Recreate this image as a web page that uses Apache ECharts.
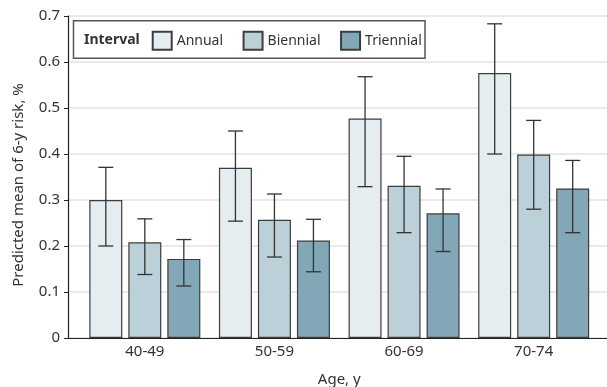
<!DOCTYPE html>
<html>
<head>
<meta charset="utf-8">
<script src="https://cdn.jsdelivr.net/npm/echarts@6/dist/echarts.min.js"></script>
<style>
  html, body { margin: 0; padding: 0; background: #fff; }
  #main { width: 607px; height: 387px; }
</style>
</head>
<body>
<div id="main"></div>
<script>
// 年龄分组与各筛查间隔的预测风险
const ageGroups = ['40-49', '50-59', '60-69', '70-74']
const intervals = ['Annual', 'Biennial', 'Triennial']
const yTicks = [0, 0.1, 0.2, 0.3, 0.4, 0.5, 0.6, 0.7]

const annualMean = [0.30, 0.37, 0.477, 0.576]
const annualLow = [0.20, 0.254, 0.329, 0.40]
const annualHigh = [0.371, 0.45, 0.568, 0.683]

const biennialMean = [0.208, 0.257, 0.331, 0.399]
const biennialLow = [0.138, 0.176, 0.229, 0.28]
const biennialHigh = [0.259, 0.313, 0.395, 0.473]

const triennialMean = [0.172, 0.212, 0.271, 0.325]
const triennialLow = [0.113, 0.144, 0.188, 0.229]
const triennialHigh = [0.214, 0.258, 0.324, 0.386]

const colors = ['#e6edf0', '#bcd0d9', '#82a7b6']
const FONT = '"Noto Sans", sans-serif'
const BAR_W = 33
const BAR_GAP = 6

const means = [annualMean, biennialMean, triennialMean]
const lows = [annualLow, biennialLow, triennialLow]
const highs = [annualHigh, biennialHigh, triennialHigh]

const chart = echarts.init(document.getElementById('main'))

const barSeries = intervals.map((name, i) => ({
  name: name,
  type: 'bar',
  xAxisIndex: 1,
  yAxisIndex: 1,
  barWidth: BAR_W,
  barGap: (BAR_GAP / BAR_W * 100).toFixed(1) + '%',
  data: means[i],
  itemStyle: {
    color: colors[i],
    borderColor: '#3d3d3d',
    borderWidth: 1.2
  },
  z: 2
}))

// 误差线
const errSeries = intervals.map((name, i) => ({
  type: 'custom',
  xAxisIndex: 1,
  yAxisIndex: 1,
  silent: true,
  z: 5,
  data: ageGroups.map((g, k) => [k, lows[i][k], highs[i][k]]),
  renderItem: function (params, api) {
    const c = api.value(0)
    const lo = api.coord([c, api.value(1)])
    const hi = api.coord([c, api.value(2)])
    const x = lo[0] + (i - 1) * (BAR_W + BAR_GAP)
    const half = 7.5
    const st = { stroke: '#333', lineWidth: 1.3 }
    return {
      type: 'group',
      children: [
        { type: 'line', shape: { x1: x, y1: lo[1], x2: x, y2: hi[1] }, style: st },
        { type: 'line', shape: { x1: x - half, y1: hi[1], x2: x + half, y2: hi[1] }, style: st },
        { type: 'line', shape: { x1: x - half, y1: lo[1], x2: x + half, y2: lo[1] }, style: st }
      ]
    }
  }
}))

const option = {
  animation: false,
  backgroundColor: '#fff',
  textStyle: { fontFamily: FONT },
  grid: [
    { left: 68, right: 0, top: 16, bottom: 49, outerBoundsMode: 'none', containLabel: false },
    { left: 80, right: 8.5, top: 16, bottom: 49, outerBoundsMode: 'none', containLabel: false }
  ],
  legend: {
    data: intervals,
    left: 151.7,
    top: 30.7,
    padding: 0,
    icon: 'rect',
    itemWidth: 19,
    itemHeight: 18,
    itemGap: 19.5,
    selectedMode: false,
    textStyle: { fontSize: 14, color: '#333', fontFamily: FONT }
  },
  xAxis: [
    {
      gridIndex: 0,
      type: 'category',
      data: [''],
      axisLine: { lineStyle: { color: '#222', width: 1.2 } },
      axisTick: { show: false },
      axisLabel: { show: false }
    },
    {
      gridIndex: 1,
      type: 'category',
      data: ageGroups,
      axisLine: { show: false },
      axisTick: { show: false },
      axisLabel: { fontSize: 15, color: '#333', margin: 6, fontFamily: FONT },
      name: 'Age, y',
      nameLocation: 'middle',
      nameGap: 34,
      nameTextStyle: { fontSize: 15, color: '#333', fontFamily: FONT }
    }
  ],
  yAxis: [
    {
      gridIndex: 0,
      type: 'value',
      min: yTicks[0],
      max: yTicks[yTicks.length - 1],
      interval: 0.1,
      axisLine: { show: true, lineStyle: { color: '#222', width: 1.2 } },
      axisTick: { show: true, length: 4, lineStyle: { color: '#222' } },
      axisLabel: { fontSize: 15, color: '#333', margin: 8, fontFamily: FONT },
      splitLine: { lineStyle: { color: '#e2e2e2', width: 1.5 } }
    },
    {
      gridIndex: 1,
      type: 'value',
      min: yTicks[0],
      max: yTicks[yTicks.length - 1],
      interval: 0.1,
      show: false
    }
  ],
  graphic: [
    {
      type: 'rect',
      shape: { x: 73.5, y: 20.7, width: 351.5, height: 37.6 },
      style: { fill: '#fff', stroke: '#555', lineWidth: 1.5 },
      z: 3
    },
    {
      type: 'text',
      x: 84,
      y: 40,
      style: {
        text: 'Interval',
        fontFamily: FONT,
        fontSize: 14,
        fontWeight: 'bold',
        fill: '#333',
        verticalAlign: 'middle'
      },
      z: 4
    },
    {
      type: 'text',
      x: 19,
      y: 185,
      rotation: Math.PI / 2,
      style: {
        text: 'Predicted mean of 6-y risk, %',
        fontFamily: FONT,
        fontSize: 15,
        fill: '#333',
        align: 'center',
        verticalAlign: 'middle'
      }
    }
  ],
  series: barSeries.concat(errSeries)
}

chart.setOption(option)
</script>
</body>
</html>
